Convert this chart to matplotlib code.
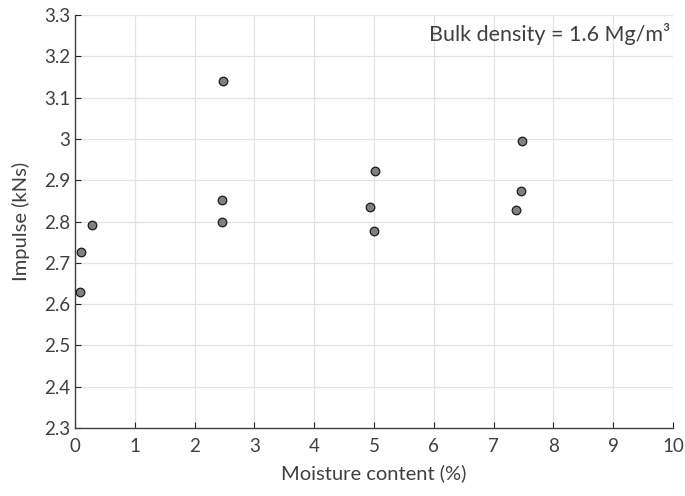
import matplotlib
matplotlib.use("Agg")
import matplotlib.pyplot as plt

moisture = [0.09, 0.10, 0.28, 2.47, 2.46, 2.46, 5.02, 4.93, 5.00, 7.48, 7.45, 7.38]
impulse = [2.629, 2.727, 2.792, 3.139, 2.852, 2.800, 2.923, 2.836, 2.778, 2.996, 2.875, 2.829]
xticks = list(range(0, 11))
yticks = [2.3, 2.4, 2.5, 2.6, 2.7, 2.8, 2.9, 3.0, 3.1, 3.2, 3.3]
ytick_labels = ["2.3", "2.4", "2.5", "2.6", "2.7", "2.8", "2.9", "3", "3.1", "3.2", "3.3"]

plt.rcParams['font.family'] = ['Lato', 'DejaVu Sans']
txt = '#404040'

fig = plt.figure(figsize=(6.85, 4.96), dpi=100)
ax = fig.add_axes([75/685, 68/496, 598/685, 413/496])
ax.scatter(moisture, impulse, s=38, facecolor='#808080', edgecolor='#1a1a1a', linewidth=0.9, zorder=3)
ax.set_xlim(0, 10)
ax.set_ylim(2.3, 3.3)
ax.set_xticks(xticks)
ax.set_yticks(yticks)
ax.set_yticklabels(ytick_labels)
ax.grid(True, color='#e3e3e3', linewidth=0.9)
ax.set_axisbelow(True)
for s in ['top', 'right']:
    ax.spines[s].set_visible(False)
for s in ['left', 'bottom']:
    ax.spines[s].set_color('#404040')
    ax.spines[s].set_linewidth(1.0)
ax.tick_params(direction='in', length=4, color='#262626', labelcolor=txt, labelsize=13.5)
ax.tick_params(axis='x', pad=7)
ax.set_xlabel('Moisture content (%)', fontsize=14.5, color=txt, labelpad=7)
ax.set_ylabel('Impulse (kNs)', fontsize=14.5, color=txt, labelpad=10)
ax.text(0.996, 0.955, 'Bulk density = 1.6 Mg/m³', transform=ax.transAxes, ha='right', va='center',
        fontsize=15.5, color=txt)
fig.savefig('out.png', dpi=100)
